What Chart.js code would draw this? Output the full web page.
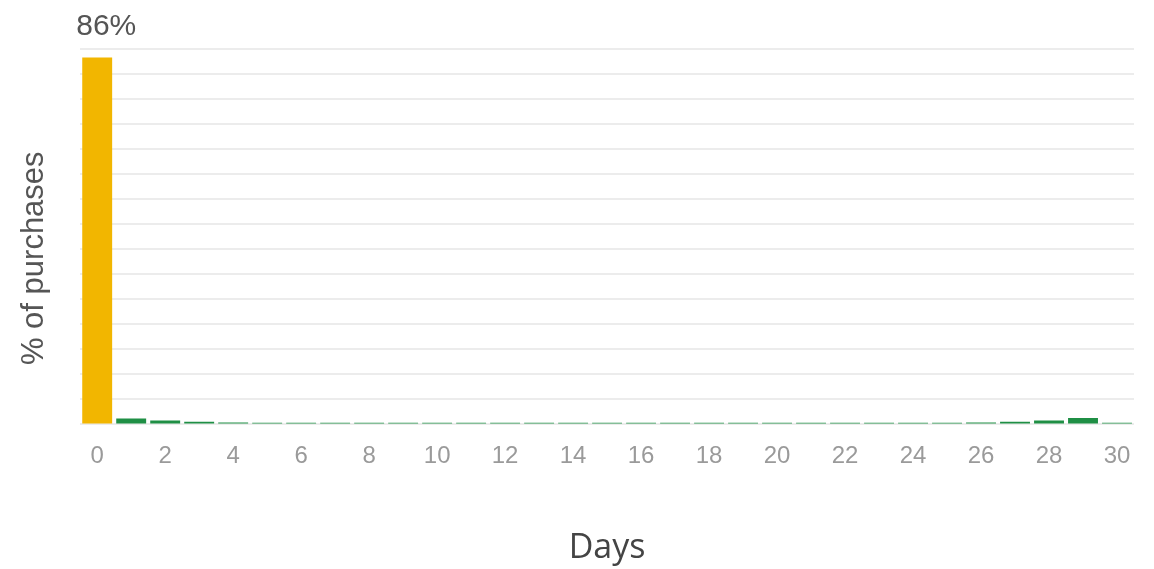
<!DOCTYPE html>
<html>
<head>
<meta charset="utf-8">
<script src="https://cdn.jsdelivr.net/npm/chart.js@4"></script>
<style>
  html, body { margin: 0; padding: 0; background: #fff; }
  #wrap { width: 1154px; height: 569px; }
</style>
</head>
<body>
<div id="wrap"><canvas id="daysChart" width="1154" height="569"></canvas></div>
<script>
// days after first visit (0..30)
var days = [];
for (var d = 0; d <= 30; d++) days.push(d);

// % of purchases per day
var purchases = [86, 1.4, 0.9, 0.6, 0.45, 0.4, 0.4, 0.4, 0.4, 0.4, 0.4, 0.4, 0.4, 0.4, 0.4, 0.4,
                 0.4, 0.4, 0.4, 0.4, 0.4, 0.4, 0.4, 0.4, 0.4, 0.4, 0.45, 0.6, 0.9, 1.5, 0.4];

var gold = '#f2b600', green = '#1f8f45';

var barColors = purchases.map(function (v, i) {
    return i === 0 ? gold : green;
});

// label above the first bar
var topLabel = {
    id: 'topLabel',
    afterDatasetsDraw: function (chart) {
        var bar = chart.getDatasetMeta(0).data[0];
        var ctx = chart.ctx;
        ctx.save();
        ctx.font = '30px "Liberation Sans", Arial, sans-serif';
        ctx.fillStyle = '#555';
        ctx.textAlign = 'left';
        ctx.textBaseline = 'middle';
        ctx.fillText(purchases[0] + '%', bar.x - bar.width / 2 - 6, 27);
        ctx.restore();
    }
};

var ctx = document.getElementById('daysChart');
var barGraph = new Chart(ctx, {
    type: 'bar',
    data: {
        labels: days,
        datasets: [{
            data: purchases,
            backgroundColor: barColors,
            barPercentage: 0.88,
            categoryPercentage: 1.0
        }]
    },
    options: {
        responsive: false,
        animation: false,
        layout: { padding: { left: 10, right: 20, top: 49, bottom: 0 } },
        plugins: { legend: { display: false }, tooltip: { enabled: false } },
        scales: {
            x: {
                grid: { display: false, drawTicks: false },
                border: { display: false },
                ticks: {
                    autoSkip: false,
                    maxRotation: 0,
                    padding: 18,
                    color: '#9a9a9a',
                    font: { family: '"Liberation Sans", Arial, sans-serif', size: 24 },
                    callback: function (val, idx) {
                        return idx % 2 === 0 ? this.getLabelForValue(val) : '';
                    }
                },
                title: {
                    display: true,
                    text: 'Days',
                    color: '#444',
                    font: { family: '"Open Sans", sans-serif', size: 34 },
                    padding: { top: 39, bottom: 0 }
                }
            },
            y: {
                min: 0,
                max: 88,
                grid: { color: '#ececec', lineWidth: 2, drawTicks: false },
                border: { display: false },
                ticks: { display: false, count: 16 },
                title: {
                    display: true,
                    // trailing spaces nudge the title a little lower, as in the original
                    text: '% of purchases     ',
                    color: '#555',
                    font: { family: '"Liberation Sans", Arial, sans-serif', size: 31 },
                    padding: { top: 6, bottom: 27 }
                }
            }
        }
    },
    plugins: [topLabel]
});
</script>
</body>
</html>
